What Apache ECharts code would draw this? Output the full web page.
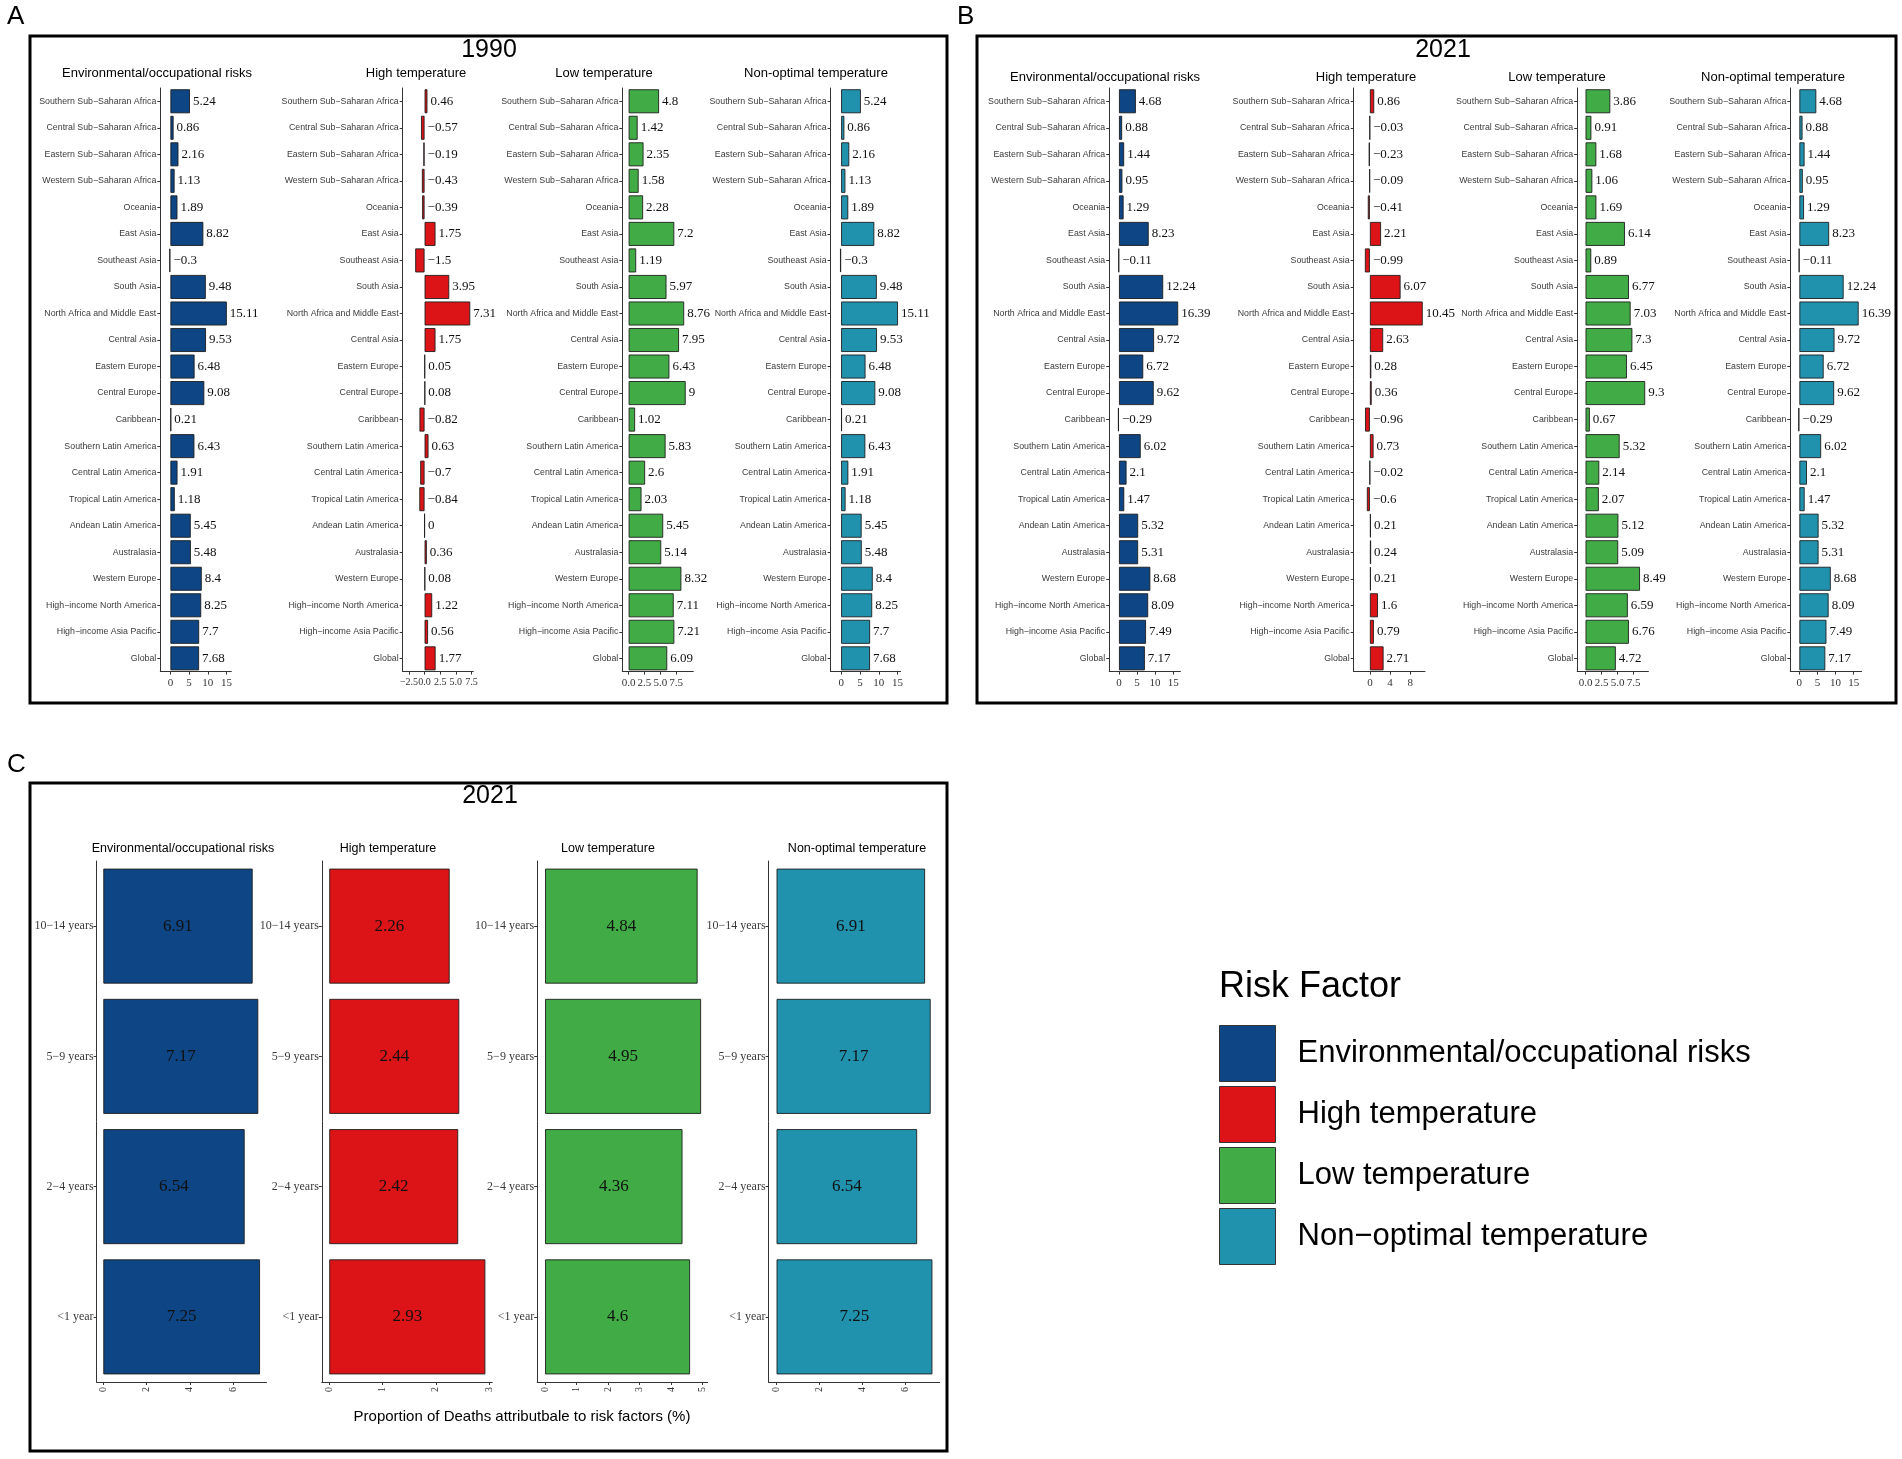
<!DOCTYPE html>
<html>
<head>
<meta charset="UTF-8">
<title>Proportion of deaths attributable to risk factors</title>
<style>
  html, body { margin: 0; padding: 0; background: #fff; }
  #chart { width: 1902px; height: 1459px; }
</style>
</head>
<body>
<div id="chart"></div>
<script src="https://cdn.jsdelivr.net/npm/echarts@6/dist/echarts.min.js"></script>
<script>
// categories, top to bottom
var regions = [
  'Southern Sub−Saharan Africa', 'Central Sub−Saharan Africa', 'Eastern Sub−Saharan Africa',
  'Western Sub−Saharan Africa', 'Oceania', 'East Asia', 'Southeast Asia', 'South Asia',
  'North Africa and Middle East', 'Central Asia', 'Eastern Europe', 'Central Europe',
  'Caribbean', 'Southern Latin America', 'Central Latin America', 'Tropical Latin America',
  'Andean Latin America', 'Australasia', 'Western Europe', 'High−income North America',
  'High−income Asia Pacific', 'Global'
];
var ageGroups = ['10−14 years', '5−9 years', '2−4 years', '<1 year'];

var riskNames = ['Environmental/occupational risks', 'High temperature', 'Low temperature', 'Non−optimal temperature'];
var facetTitles = ['Environmental/occupational risks', 'High temperature', 'Low temperature', 'Non-optimal temperature'];
var riskColors = ['#0E4584', '#DC1417', '#41AC45', '#2192AE'];

// panel A, 1990
var env1990  = [5.24, 0.86, 2.16, 1.13, 1.89, 8.82, -0.3, 9.48, 15.11, 9.53, 6.48, 9.08, 0.21, 6.43, 1.91, 1.18, 5.45, 5.48, 8.4, 8.25, 7.7, 7.68];
var high1990 = [0.46, -0.57, -0.19, -0.43, -0.39, 1.75, -1.5, 3.95, 7.31, 1.75, 0.05, 0.08, -0.82, 0.63, -0.7, -0.84, 0, 0.36, 0.08, 1.22, 0.56, 1.77];
var low1990  = [4.8, 1.42, 2.35, 1.58, 2.28, 7.2, 1.19, 5.97, 8.76, 7.95, 6.43, 9, 1.02, 5.83, 2.6, 2.03, 5.45, 5.14, 8.32, 7.11, 7.21, 6.09];
var non1990  = [5.24, 0.86, 2.16, 1.13, 1.89, 8.82, -0.3, 9.48, 15.11, 9.53, 6.48, 9.08, 0.21, 6.43, 1.91, 1.18, 5.45, 5.48, 8.4, 8.25, 7.7, 7.68];

// panel B, 2021
var env2021  = [4.68, 0.88, 1.44, 0.95, 1.29, 8.23, -0.11, 12.24, 16.39, 9.72, 6.72, 9.62, -0.29, 6.02, 2.1, 1.47, 5.32, 5.31, 8.68, 8.09, 7.49, 7.17];
var high2021 = [0.86, -0.03, -0.23, -0.09, -0.41, 2.21, -0.99, 6.07, 10.45, 2.63, 0.28, 0.36, -0.96, 0.73, -0.02, -0.6, 0.21, 0.24, 0.21, 1.6, 0.79, 2.71];
var low2021  = [3.86, 0.91, 1.68, 1.06, 1.69, 6.14, 0.89, 6.77, 7.03, 7.3, 6.45, 9.3, 0.67, 5.32, 2.14, 2.07, 5.12, 5.09, 8.49, 6.59, 6.76, 4.72];
var non2021  = [4.68, 0.88, 1.44, 0.95, 1.29, 8.23, -0.11, 12.24, 16.39, 9.72, 6.72, 9.62, -0.29, 6.02, 2.1, 1.47, 5.32, 5.31, 8.68, 8.09, 7.49, 7.17];

// panel C, 2021 by age
var envAge  = [6.91, 7.17, 6.54, 7.25];
var highAge = [2.26, 2.44, 2.42, 2.93];
var lowAge  = [4.84, 4.95, 4.36, 4.6];
var nonAge  = [6.91, 7.17, 6.54, 7.25];

// axis tick values
var ticksWide = [0, 5, 10, 15];
var ticksHighA = [-2.5, 0, 2.5, 5, 7.5];
var ticksLow = [0, 2.5, 5, 7.5];
var ticksHighB = [0, 4, 8];
var ticksAgeWide = [0, 2, 4, 6];
var ticksAgeHigh = [0, 1, 2, 3];
var ticksAgeLow = [0, 1, 2, 3, 4, 5];

var SANS = 'Liberation Sans, Arial, sans-serif';
var SERIF = 'Liberation Serif, Times New Roman, serif';

function minus(s) { return String(s).replace('-', '−'); }

var chart = echarts.init(document.getElementById('chart'));

var grids = [], xAxes = [], yAxes = [], series = [];

function addFacet(f) {
  var i = grids.length;
  grids.push({ left: f.left, top: f.top, width: f.width, height: f.height, containLabel: false, outerBoundsMode: 'none' });
  xAxes.push({
    type: 'value', gridIndex: i, min: f.min, max: f.max,
    splitLine: { show: false },
    axisLine: { show: true, onZero: false, lineStyle: { color: '#333', width: 1 } },
    axisTick: { show: true, length: 3, customValues: f.ticks, lineStyle: { color: '#333' } },
    axisLabel: {
      customValues: f.ticks, fontFamily: SERIF, fontSize: f.tickSize, color: '#333',
      margin: f.tickMargin, rotate: f.rotate || 0, hideOverlap: false,
      showMinLabel: true, showMaxLabel: true,
      formatter: function (v) { return minus(v.toFixed(f.digits)); }
    }
  });
  yAxes.push({
    type: 'category', gridIndex: i, data: f.cats, inverse: true,
    axisLine: { show: true, onZero: false, lineStyle: { color: '#333', width: 1 } },
    axisTick: { show: true, length: 3, alignWithLabel: true, lineStyle: { color: '#333' } },
    axisLabel: { interval: 0, fontFamily: f.catFont, fontSize: f.catSize, color: '#3a3a3a', margin: f.catMargin }
  });
  series.push({
    type: 'bar', name: riskNames[f.risk], xAxisIndex: i, yAxisIndex: i,
    data: f.values, barWidth: f.barWidth,
    itemStyle: { color: riskColors[f.risk], borderColor: '#1e1e1e', borderWidth: 0.9 },
    label: {
      show: true, position: f.labelPos, distance: 3,
      fontFamily: SERIF, fontSize: f.labelSize, color: '#111',
      formatter: function (p) { return minus(p.value); }
    },
    emphasis: { disabled: true },
    silent: true
  });
}

// regional panels
var rowTop = 88, rowHeight = 583.6;
var panelA = [
  { values: env1990,  left: 160.3, width: 71,   min: -2.7, max: 16.3, ticks: ticksWide,  digits: 0 },
  { values: high1990, left: 402.7, width: 70.6, min: -3.5, max: 7.8,  ticks: ticksHighA, digits: 1, tickSize: 10 },
  { values: low1990,  left: 622.3, width: 71,   min: -1.0, max: 10.2, ticks: ticksLow,   digits: 1 },
  { values: non1990,  left: 830.6, width: 70,   min: -2.8, max: 15.8, ticks: ticksWide,  digits: 0 }
];
var panelB = [
  { values: env2021,  left: 1109.2, width: 71.2, min: -2.7, max: 17.0, ticks: ticksWide,  digits: 0 },
  { values: high2021, left: 1353.7, width: 71.3, min: -3.2, max: 10.9, ticks: ticksHighB, digits: 0 },
  { values: low2021,  left: 1577.2, width: 71.2, min: -1.3, max: 9.8,  ticks: ticksLow,   digits: 1 },
  { values: non2021,  left: 1790.3, width: 71.3, min: -2.5, max: 17.2, ticks: ticksWide,  digits: 0 }
];
panelA.concat(panelB).forEach(function (f, k) {
  f.risk = k % 4;
  f.cats = regions;
  f.top = rowTop; f.height = rowHeight;
  f.barWidth = 24; f.labelPos = 'right'; f.labelSize = 13;
  f.tickSize = f.tickSize || 11; f.tickMargin = 6;
  f.catFont = SANS; f.catSize = 8.8; f.catMargin = 4;
  addFacet(f);
});

// age panel
var panelC = [
  { values: envAge,  left: 96.6,  width: 169.9, min: -0.31, max: 7.55, ticks: ticksAgeWide, digits: 0 },
  { values: highAge, left: 321.8, width: 170.5, min: -0.14, max: 3.06, ticks: ticksAgeHigh, digits: 0 },
  { values: lowAge,  left: 537.2, width: 170.5, min: -0.25, max: 5.16, ticks: ticksAgeLow,  digits: 0 },
  { values: nonAge,  left: 768.6, width: 171.1, min: -0.37, max: 7.59, ticks: ticksAgeWide, digits: 0 }
];
panelC.forEach(function (f, k) {
  f.risk = k;
  f.cats = ageGroups;
  f.top = 861; f.height = 521;
  f.barWidth = 115; f.labelPos = 'inside'; f.labelSize = 17;
  f.tickSize = 10; f.tickMargin = 5; f.rotate = 90;
  f.catFont = SERIF; f.catSize = 12; f.catMargin = 3;
  addFacet(f);
});

// frames, panel letters, titles
var graphics = [];
function box(x1, y1, x2, y2) {
  graphics.push({ type: 'rect', shape: { x: x1, y: y1, width: x2 - x1, height: y2 - y1 },
    style: { fill: 'none', stroke: '#000', lineWidth: 3 }, silent: true });
}
function label(txt, x, y, size, align, font) {
  graphics.push({ type: 'text', x: x, y: y, silent: true,
    style: { text: txt, fontSize: size, fontFamily: font || SANS, fill: '#000',
      align: align || 'center', verticalAlign: 'middle' } });
}
box(30, 36, 947, 703);
box(977, 36, 1896, 703);
box(30, 783, 947, 1451);
label('A', 7, 17, 26, 'left');
label('B', 957, 17, 26, 'left');
label('C', 7, 765, 26, 'left');
label('1990', 489, 50, 25);
label('2021', 1443, 50, 25);
label('2021', 490, 796, 25);

var titleXA = [157, 416, 604, 816];
var titleXB = [1105, 1366, 1557, 1773];
var titleXC = [183, 388, 608, 857];
facetTitles.forEach(function (t, k) {
  label(t, titleXA[k], 73, 13);
  label(t, titleXB[k], 77, 13);
  label(t, titleXC[k], 849, 12.5);
});
label('Proportion of Deaths attributbale to risk factors (%)', 522, 1417, 15);
label('Risk Factor', 1219, 987, 36, 'left');

chart.setOption({
  backgroundColor: '#fff',
  animation: false,
  grid: grids,
  xAxis: xAxes,
  yAxis: yAxes,
  series: series,
  legend: {
    data: riskNames, orient: 'vertical', left: 1219, top: 1025, padding: 0,
    itemWidth: 56, itemHeight: 56, itemGap: 4, icon: 'rect', selectedMode: false,
    itemStyle: { borderColor: '#333', borderWidth: 1 },
    textStyle: { fontFamily: SANS, fontSize: 31, color: '#000', padding: [0, 0, 0, 17] }
  },
  graphic: graphics
});
</script>
</body>
</html>
